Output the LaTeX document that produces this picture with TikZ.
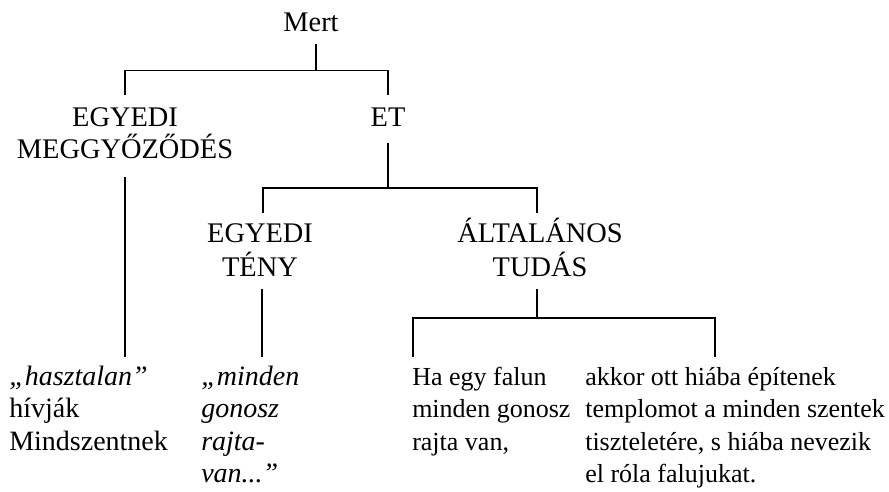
\documentclass[tikz,border=0pt]{standalone}
\usepackage{fontspec}
\setmainfont{Liberation Serif}
\usetikzlibrary{calc}
\newcommand{\rows}[2]{\begin{tabular}[t]{@{}#1@{}}#2\end{tabular}}
\begin{document}
\begin{tikzpicture}[x=0.75pt,y=-0.75pt,
  hd/.style={inner sep=0pt, anchor=base, text height=17.08pt,
    font=\fontsize{21.3}{24.4}\selectfont},
  tx/.style={inner sep=0pt, anchor=base west, text height=17.08pt,
    font=\fontsize{19.5}{24.4}\selectfont},
  txl/.style={tx, font=\fontsize{21}{24.4}\selectfont},
  ln/.style={line width=1.4pt}]
\useasboundingbox (0,0) rectangle (889,492);

% labels
\node[hd] (mert) at (311,32) {Mert};
\node[hd] (egym) at (125,127) {\rows{c}{EGYEDI\\[-1.9pt]MEGGYŐZŐDÉS}};
\node[hd] (et) at (388,127) {ET};
\node[hd] (egyt) at (260,242) {\rows{c}{EGYEDI\\TÉNY}};
\node[hd] (alt) at (540,242) {\rows{c}{ÁLTALÁNOS\\TUDÁS}};

\node[txl] (t1) at (9,385) {\rows{l}{\textit{„hasztalan”}\\hívják\\Mindszentnek}};
\node[txl] (t2) at (201,385) {\rows{l}{\itshape „minden\\\itshape gonosz\\\itshape rajta-\\\itshape van...”}};
\node[tx] (t3) at (412,385) {\rows{l}{Ha egy falun\\minden gonosz\\rajta van,}};
\node[tx] (t4) at (585,385) {\rows{l}{akkor ott hiába építenek\\templomot a minden szentek\\tiszteletére, s hiába nevezik\\el róla falujukat.}};

% junctions
\coordinate (j1) at ($(mert.south)+(5,38)$);
\coordinate (j2) at ($(et.south)+(0,61)$);
\coordinate (j3) at ($(alt.south)+(-3,32)$);

% connectors
\draw[ln] ($(mert.south)+(5,11)$) -- (j1);
\draw[ln] (j1) -| ($(egym.north)+(0,-9)$);
\draw[ln] (j1) -| ($(et.north)+(0,-9)$);

\draw[ln] ($(egym.south)+(0,8)$) -- ($(egym.south |- t1.north)+(0,-5)$);

\draw[ln] ($(et.south)+(0,16)$) -- (j2);
\draw[ln] (j2) -| ($(egyt.north)+(3,-6)$);
\draw[ln] (j2) -| ($(alt.north)+(-3,-6)$);

\draw[ln] ($(egyt.south)+(2,3)$) -- ($(egyt.south |- t2.north)+(2,-5)$);

\draw[ln] ($(alt.south)+(-3,3)$) -- (j3);
\draw[ln] (j3) -| ($(t3.north west)+(1,-5)$);
\draw[ln] (j3) -| ($(t4.north west)+(130,-5)$);
\end{tikzpicture}
\end{document}
